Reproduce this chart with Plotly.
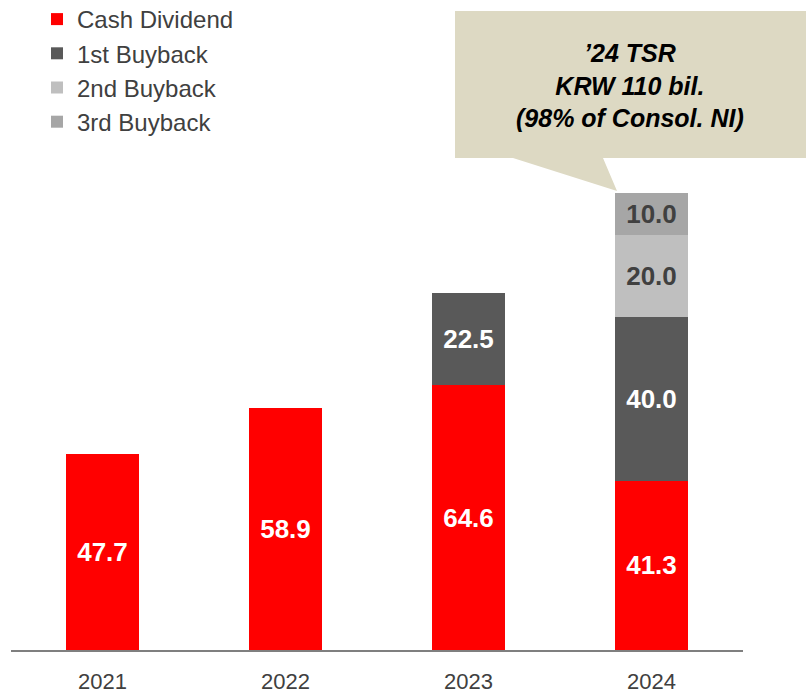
import plotly.graph_objects as go

years = ["2021", "2022", "2023", "2024"]
cash_dividend = [47.7, 58.9, 64.6, 41.3]
buyback_1st = [None, None, 22.5, 40.0]
buyback_2nd = [None, None, None, 20.0]
buyback_3rd = [None, None, None, 10.0]
callout_text = "<b><i>’24 TSR<br>KRW 110 bil.<br>(98% of Consol. NI)</i></b>"

FONT = "Liberation Sans, Arial, sans-serif"

series = [
    ("Cash Dividend", cash_dividend, "#FF0000", "white"),
    ("1st Buyback", buyback_1st, "#595959", "white"),
    ("2nd Buyback", buyback_2nd, "#BFBFBF", "#404040"),
    ("3rd Buyback", buyback_3rd, "#A6A6A6", "#404040"),
]

fig = go.Figure()
for name, vals, color, tcolor in series:
    fig.add_trace(go.Bar(
        x=years, y=vals, name=name, marker=dict(color=color, line=dict(width=0)),
        texttemplate="<b>%{y:.1f}</b>", textposition="inside",
        insidetextanchor="middle", textangle=0,
        textfont=dict(family=FONT, size=26, color=tcolor),
        hoverinfo="skip",
    ))

W, H = 806, 694
L, R, T, B = 11, 63, 4, 44
pw, ph = W - L - R, H - T - B

def px(x):
    return (x - L) / pw

def py(y):
    return (H - B - y) / ph

# callout box + tail
box = (f"M {px(455)} {py(158)} L {px(513)} {py(158)} L {px(617)} {py(191)} "
       f"L {px(603)} {py(158)} L {px(806)} {py(158)} L {px(806)} {py(11)} "
       f"L {px(455)} {py(11)} Z")
fig.add_shape(type="path", path=box, xref="paper", yref="paper",
              fillcolor="#DDD9C3", line=dict(width=0), layer="above")
fig.add_annotation(text=callout_text, xref="paper", yref="paper",
                   x=px(630), y=py(85), xanchor="center", yanchor="middle",
                   showarrow=False,
                   font=dict(family=FONT, size=25, color="black"), align="center")

fig.update_layout(
    width=W, height=H, barmode="stack", bargap=0.6,
    margin=dict(l=L, r=R, t=T, b=B, autoexpand=False),
    plot_bgcolor="white", paper_bgcolor="white",
    showlegend=True,
    legend=dict(x=px(37), y=py(-3), xanchor="left", yanchor="top",
                traceorder="normal", font=dict(family=FONT, size=24, color="#404040"),
                itemclick=False, bgcolor="rgba(0,0,0,0)", tracegroupgap=0),
    xaxis=dict(showline=True, linecolor="#7F7F7F", linewidth=2, ticks="outside",
               ticklen=11, tickcolor="rgba(0,0,0,0)",
               tickfont=dict(family=FONT, size=22, color="#404040"), showgrid=False),
    yaxis=dict(visible=False, range=[0, 157.5], showgrid=False),
    uniformtext=dict(minsize=8, mode="show"),
)

fig.write_html("out.html", config={"displayModeBar": False},
               post_script="document.body.style.margin='0';document.body.style.overflow='hidden';")
